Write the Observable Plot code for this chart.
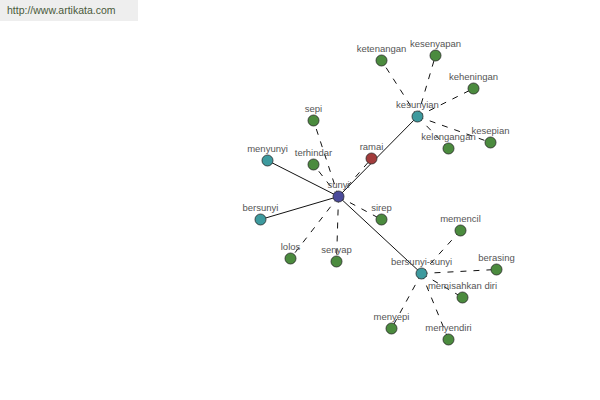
<!DOCTYPE html>
<html>
<head>
<meta charset="utf-8">
<script src="https://cdn.jsdelivr.net/npm/d3@7"></script>
<script src="https://cdn.jsdelivr.net/npm/@observablehq/plot@0.6"></script>
<style>
  body { margin: 0; background: #fff; }
  #wrap { position: relative; width: 600px; height: 400px; }
  #wm { position: absolute; left: 0; top: 0; width: 131px; height: 21px; background: #eeeeee;
        font: 10.5px "Liberation Sans", Arial, sans-serif; color: #4a5a3a; padding-left: 7px; line-height: 21px; }
</style>
</head>
<body>
<div id="wrap"><div id="chart"></div><div id="wm">http://www.artikata.com</div></div>
<script>
// Node names, groups and layout coordinates
const names  = ["sunyi","kesunyian","bersunyi-sunyi","menyunyi","bersunyi","ramai","sepi","terhindar","sirep","lolos","senyap",
                "ketenangan","kesenyapan","keheningan","kesepian","kelengangan",
                "memencil","berasing","memisahkan diri","menyepi","menyendiri"];
const groups = ["root","derived","derived","derived","derived","antonym","synonym","synonym","synonym","synonym","synonym",
                "synonym","synonym","synonym","synonym","synonym",
                "synonym","synonym","synonym","synonym","synonym"];
const xs = [338,417,421,267,260,371,313,313,381,290,336, 381,435,473,490,448, 460,496,462,391,448];
const ys = [196,116,273,160,219,158,120,164,219,258,261, 60,55,88,142,148, 230,269,297,328,339];

// Edges
const sources = ["sunyi","sunyi","sunyi","sunyi","sunyi","sunyi","sunyi","sunyi","sunyi","sunyi",
                 "kesunyian","kesunyian","kesunyian","kesunyian","kesunyian",
                 "bersunyi-sunyi","bersunyi-sunyi","bersunyi-sunyi","bersunyi-sunyi","bersunyi-sunyi"];
const targets = ["kesunyian","bersunyi-sunyi","menyunyi","bersunyi","ramai","sepi","terhindar","sirep","lolos","senyap",
                 "ketenangan","kesenyapan","keheningan","kesepian","kelengangan",
                 "memencil","berasing","memisahkan diri","menyepi","menyendiri"];
const edgeTypes = ["solid","solid","solid","solid","dashed","dashed","dashed","dashed","dashed","dashed",
                   "dashed","dashed","dashed","dashed","dashed",
                   "dashed","dashed","dashed","dashed","dashed"];

const groupDomain = ["root","derived","synonym","antonym"];
const groupColors = ["#4b4b9b","#3d9a9e","#4b8b3e","#a23c3c"];

const nodes = names.map((n,i) => ({name:n, group:groups[i], x:xs[i], y:ys[i]}));
const byName = new Map(nodes.map(d => [d.name, d]));
const edges = sources.map((s,i) => ({
  x1: byName.get(s).x, y1: byName.get(s).y,
  x2: byName.get(targets[i]).x, y2: byName.get(targets[i]).y, type: edgeTypes[i]
}));

const chart = Plot.plot({
  width: 600, height: 400,
  margin: 0,
  x: {domain: [0, 600], axis: null},
  y: {domain: [0, 400], range: [0, 400], axis: null},
  color: {domain: groupDomain, range: groupColors},
  style: {fontFamily: "'Liberation Sans', Arial, sans-serif", background: "#fff"},
  marks: [
    Plot.link(edges.filter(d => d.type === "solid"), {x1:"x1", y1:"y1", x2:"x2", y2:"y2", stroke:"#111", strokeWidth:1}),
    Plot.link(edges.filter(d => d.type === "dashed"), {x1:"x1", y1:"y1", x2:"x2", y2:"y2", stroke:"#111", strokeWidth:1, strokeDasharray:"6,7"}),
    Plot.dot(nodes, {x:"x", y:"y", r:5.5, fill:"group", stroke:"#2a2a2a", strokeWidth:0.8}),
    Plot.text(nodes, {x:"x", y:"y", text:"name", dy:-12, fill:"#555", fontSize:9.5})
  ]
});
document.getElementById("chart").appendChild(chart);
</script>
</body>
</html>
